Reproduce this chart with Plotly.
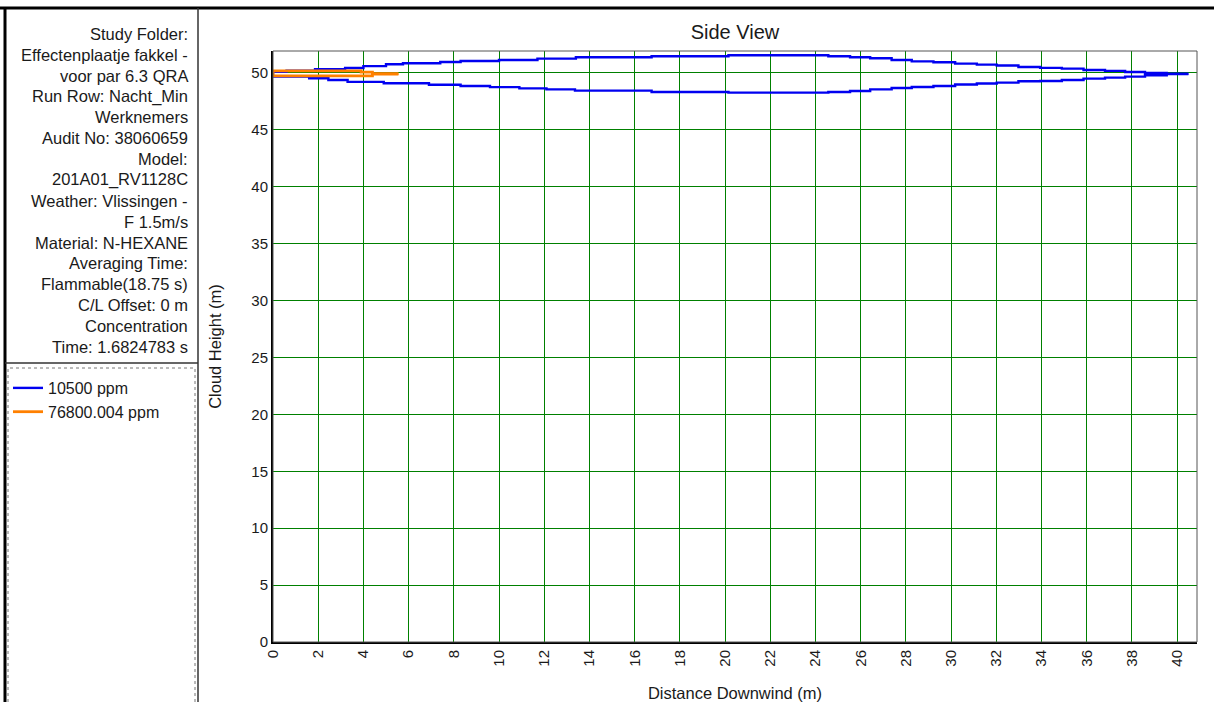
import plotly.graph_objects as go

# ---------------- data ----------------
# 10500 ppm contour: upper and lower edges as staircase (start of each step)
blue_up_x = [0, 0.6, 1.86, 3.19, 4.0, 5.0, 5.75, 7.4, 8.3, 10.0, 11.7, 13.4, 16.75, 20.15,
             24.57, 25.53, 26.42, 27.37, 28.26, 29.22, 30.18, 31.14, 32.02, 32.98, 33.94,
             34.9, 35.86, 36.81, 37.7, 38.58, 39.54, 40.5]
blue_up_y = [50.1, 50.2, 50.33, 50.44, 50.6, 50.76, 50.85, 50.97, 51.05, 51.14, 51.26, 51.38,
             51.47, 51.55, 51.47, 51.38, 51.29, 51.14, 51.02, 50.94, 50.82, 50.73, 50.65,
             50.53, 50.45, 50.38, 50.26, 50.18, 50.09, 50.0, 49.93, 49.93]
blue_lo_x = [0, 1.6, 2.45, 3.3, 4.9, 6.9, 8.3, 9.6, 10.9, 12.1, 13.36, 16.75, 20.15, 24.57,
             25.53, 26.42, 27.37, 28.26, 29.22, 30.18, 31.14, 32.02, 32.98, 33.94, 34.9,
             35.86, 36.81, 37.7, 38.58, 39.54, 40.5]
blue_lo_y = [49.68, 49.53, 49.38, 49.22, 49.1, 48.97, 48.85, 48.76, 48.65, 48.56, 48.45,
             48.33, 48.27, 48.33, 48.42, 48.56, 48.68, 48.77, 48.85, 48.99, 49.07, 49.15,
             49.27, 49.3, 49.38, 49.5, 49.59, 49.68, 49.8, 49.9, 49.9]

# 76800.004 ppm contour
orange_up_x = [0, 3.9, 4.4, 5.55]
orange_up_y = [50.18, 50.08, 49.95, 49.95]
orange_lo_x = [0, 4.4, 5.55]
orange_lo_y = [49.75, 49.9, 49.9]

series_names = ["10500 ppm", "76800.004 ppm"]
series_colors = ["#0000f0", "#ff8000"]

x_ticks = list(range(0, 41, 2))
y_ticks = list(range(0, 51, 5))

info_lines = ["Study Folder:", "Effectenplaatje fakkel -", "voor par 6.3 QRA",
              "Run Row: Nacht_Min", "Werknemers", "Audit No: 38060659", "Model:",
              "201A01_RV1128C", "Weather: Vlissingen -", "F 1.5m/s",
              "Material: N-HEXANE", "Averaging Time:", "Flammable(18.75 s)",
              "C/L Offset: 0 m", "Concentration", "Time: 1.6824783 s"]

# ---------------- layout geometry ----------------
W, H = 1214, 702
L, R, T, B = 273, 1197, 51, 642   # plot area in pixels
PW, PH = R - L, B - T


def px(xp):
    return (xp - L) / PW


def py(yp):
    return (B - yp) / PH


FONT = "Liberation Sans, Arial, sans-serif"
TXT = "#1a1a1a"

fig = go.Figure()

# blue contour
fig.add_trace(go.Scatter(x=blue_up_x, y=blue_up_y, mode="lines", line_shape="hv",
                         name=series_names[0], legendgroup="a",
                         line=dict(color=series_colors[0], width=2.4)))
fig.add_trace(go.Scatter(x=blue_lo_x, y=blue_lo_y, mode="lines", line_shape="hv",
                         name=series_names[0], legendgroup="a", showlegend=False,
                         line=dict(color=series_colors[0], width=2.4)))
fig.add_trace(go.Scatter(x=[blue_up_x[0], blue_lo_x[0]], y=[blue_up_y[0], blue_lo_y[0]],
                         mode="lines", legendgroup="a", showlegend=False,
                         line=dict(color=series_colors[0], width=2.4)))
# orange contour
fig.add_trace(go.Scatter(x=orange_up_x, y=orange_up_y, mode="lines", line_shape="hv",
                         name=series_names[1], legendgroup="b",
                         line=dict(color=series_colors[1], width=2.8)))
fig.add_trace(go.Scatter(x=orange_lo_x, y=orange_lo_y, mode="lines", line_shape="hv",
                         name=series_names[1], legendgroup="b", showlegend=False,
                         line=dict(color=series_colors[1], width=2.8)))
fig.add_trace(go.Scatter(x=[orange_up_x[0], orange_lo_x[0]], y=[orange_up_y[0], orange_lo_y[0]],
                         mode="lines", legendgroup="b", showlegend=False,
                         line=dict(color=series_colors[1], width=2.8)))

shapes = []
# plot frame (thin gray top/right)
shapes.append(dict(type="rect", xref="paper", yref="paper", x0=0, x1=1, y0=0, y1=1,
                   line=dict(color="#555555", width=1), layer="above"))
# outer top border line
shapes.append(dict(type="line", xref="paper", yref="paper", x0=px(0), x1=px(W),
                   y0=py(8), y1=py(8), line=dict(color="black", width=3)))
# left panel
shapes.append(dict(type="line", xref="paper", yref="paper", x0=px(5), x1=px(5),
                   y0=py(8), y1=py(H + 5), line=dict(color="black", width=3)))
shapes.append(dict(type="line", xref="paper", yref="paper", x0=px(198), x1=px(198),
                   y0=py(8), y1=py(H + 5), line=dict(color="#333333", width=1.5)))
shapes.append(dict(type="line", xref="paper", yref="paper", x0=px(5), x1=px(198),
                   y0=py(363), y1=py(363), line=dict(color="#333333", width=1.5)))
# legend box (dotted)
shapes.append(dict(type="rect", xref="paper", yref="paper", x0=px(8), x1=px(195),
                   y0=py(H + 5), y1=py(368), line=dict(color="#777777", width=1, dash="dot")))

annotations = []
for i, t in enumerate(info_lines):
    annotations.append(dict(text=t, xref="paper", yref="paper", x=px(190), y=py(34 + i * 20.85),
                            xanchor="right", yanchor="middle", showarrow=False,
                            font=dict(family=FONT, size=16.5, color=TXT)))

fig.update_layout(
    width=W, height=H,
    margin=dict(l=L, r=W - R, t=T, b=H - B, pad=0, autoexpand=False),
    paper_bgcolor="white", plot_bgcolor="white",
    font=dict(family=FONT, size=15, color=TXT),
    title=dict(text="Side View", xref="paper", x=px(735), xanchor="center",
               yref="container", y=1 - 32 / H, yanchor="middle",
               font=dict(family=FONT, size=20, color=TXT)),
    showlegend=True,
    legend=dict(x=px(8), y=py(371), xanchor="left", yanchor="top",
                bgcolor="rgba(0,0,0,0)", font=dict(family=FONT, size=16, color=TXT),
                tracegroupgap=0, itemwidth=30),
    shapes=shapes,
    annotations=annotations,
    xaxis=dict(range=[0, 40.88], tickvals=x_ticks, ticktext=[str(v) for v in x_ticks],
               tickangle=-90, showgrid=True, gridcolor="#008000", gridwidth=1,
               zeroline=False, showline=True, linecolor="black", linewidth=2,
               ticks="", tickfont=dict(family=FONT, size=15, color=TXT),
               title=dict(text="Distance Downwind (m)", standoff=22,
                          font=dict(family=FONT, size=16.5, color=TXT))),
    yaxis=dict(range=[0, 51.93], tickvals=y_ticks, ticktext=[str(v) for v in y_ticks],
               showgrid=True, gridcolor="#008000", gridwidth=1,
               zeroline=False, showline=True, linecolor="black", linewidth=2,
               ticks="", tickfont=dict(family=FONT, size=15, color=TXT),
               title=dict(text="Cloud Height (m)", standoff=26,
                          font=dict(family=FONT, size=16.5, color=TXT))),
)

fig.write_html("out.html", config={"displayModeBar": False},
               post_script="document.body.style.margin='0px';")
